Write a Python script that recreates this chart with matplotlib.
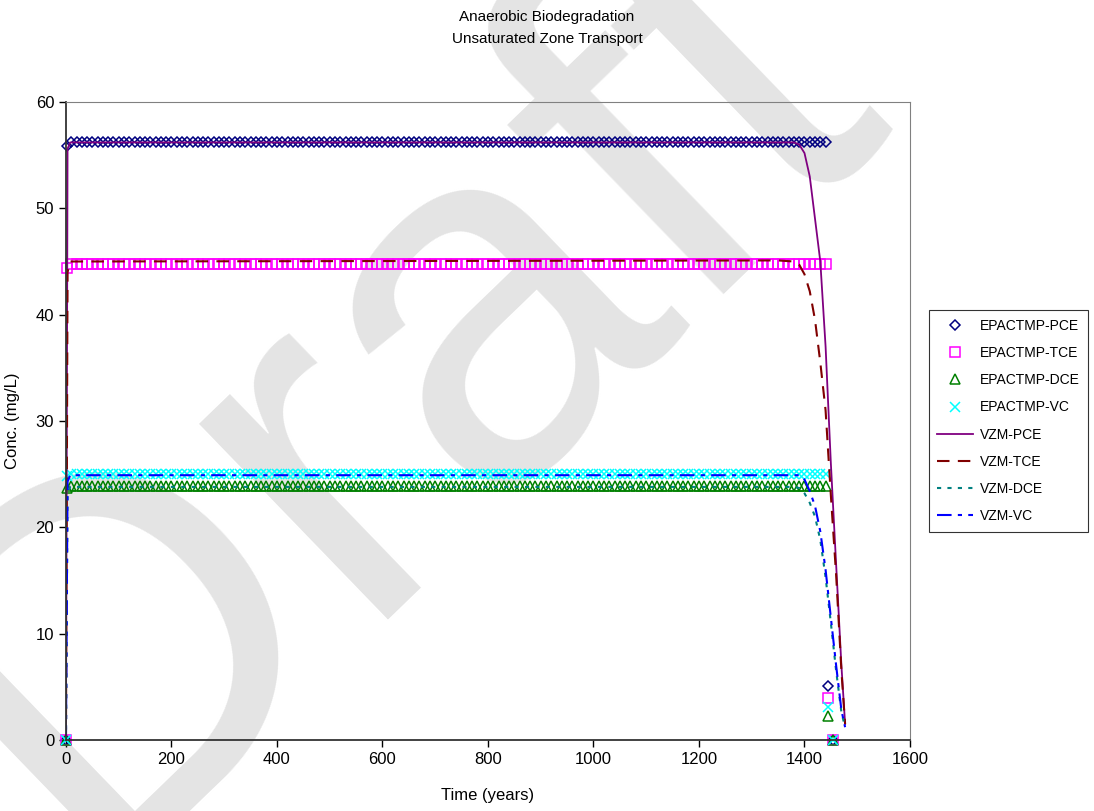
import numpy as np
import matplotlib
matplotlib.use("Agg")
import matplotlib.pyplot as plt

plt.rcParams["font.family"] = ["Liberation Sans", "DejaVu Sans"]

# EPACTMP model output (markers)
epa_time = [0, 2] + list(range(10, 1441, 10)) + [1445, 1455]
n_flat = len(range(10, 1441, 10))
epa_pce = [0, 55.9] + [56.2] * n_flat + [5.1, 0]
epa_tce = [0, 44.4] + [44.8] * n_flat + [3.9, 0]
epa_dce = [0, 23.7] + [23.9] * n_flat + [2.3, 0]
epa_vc = [0, 24.8] + [25.0] * n_flat + [3.1, 0]

# VZM model output (lines)
vzm_time = [0, 3, 8, 1350, 1380, 1390, 1400, 1410, 1420, 1430, 1440, 1450, 1460, 1470, 1477]
vzm_pce = [0, 55.6, 56.2, 56.2, 56.2, 56.0, 55.2, 53.0, 49.0, 45.0, 37.0, 26.0, 16.5, 7.0, 1.5]
vzm_tce = [0, 44.0, 45.0, 45.1, 45.0, 44.7, 43.8, 42.2, 39.5, 35.5, 31.0, 23.0, 15.5, 6.5, 1.5]
vzm_dce = [0, 23.2, 23.8, 23.8, 23.8, 23.7, 23.2, 22.3, 21.0, 18.8, 15.3, 11.0, 6.5, 2.6, 1.2]
vzm_vc = [0, 24.3, 24.9, 24.9, 24.9, 24.9, 24.5, 23.4, 22.0, 19.6, 16.0, 11.5, 7.0, 2.8, 1.2]

fig = plt.figure(figsize=(10.94, 8.11), dpi=100)
fig.text(0.36, 0.52, "Draft", fontsize=370, color="#e4e4e4", rotation=44,
         ha="center", va="center", zorder=-5)
ax = fig.add_axes([0.0603, 0.0876, 0.7715, 0.7866])
ax.set_facecolor("none")

mk = dict(linestyle="none", markerfacecolor="none", markeredgewidth=1.1, clip_on=False)
ax.plot(epa_time, epa_pce, marker="D", markersize=5.5, color="#000080", label="EPACTMP-PCE", **mk)
ax.plot(epa_time, epa_tce, marker="s", markersize=6.5, color="#ff00ff", label="EPACTMP-TCE", **mk)
ax.plot(epa_time, epa_dce, marker="^", markersize=7, color="#008000", label="EPACTMP-DCE", **mk)
ax.plot(epa_time, epa_vc, marker="x", markersize=7, color="#00ffff", label="EPACTMP-VC", **mk)

ax.plot(vzm_time, vzm_pce, color="#800080", lw=1.3, label="VZM-PCE")
ax.plot(vzm_time, vzm_tce, color="#800000", lw=1.5, dashes=(6, 4), label="VZM-TCE")
ax.plot(vzm_time, vzm_dce, color="#008080", lw=1.5, dashes=(2, 3), label="VZM-DCE")
ax.plot(vzm_time, vzm_vc, color="#0000ff", lw=1.5, dashes=(7, 3, 2, 3), label="VZM-VC")

ax.set_xlim(0, 1600)
ax.set_ylim(0, 60)
ax.set_xticks(np.arange(0, 1601, 200))
ax.set_yticks(np.arange(0, 61, 10))
ax.tick_params(direction="out", length=5, labelsize=12, width=1)
for side in ["top", "right"]:
    ax.spines[side].set_color("#808080")
for side in ["left", "bottom"]:
    ax.spines[side].set_color("#333333")
    ax.spines[side].set_linewidth(1.3)

ax.set_xlabel("Time (years)", fontsize=12)
ax.set_ylabel("Conc. (mg/L)", fontsize=12)
ax.xaxis.set_label_coords(0.5, -0.075)
ax.yaxis.set_label_coords(-0.055, 0.5)
fig.text(0.5, 0.988, "Anaerobic Biodegradation\nUnsaturated Zone Transport",
         ha="center", va="top", fontsize=11, linespacing=1.75)

leg = ax.legend(loc="center left", bbox_to_anchor=(1.022, 0.5), fontsize=10,
                frameon=True, fancybox=False, edgecolor="black", handlelength=2.6,
                handletextpad=0.5, labelspacing=0.95, borderpad=0.6, borderaxespad=0)
leg.get_frame().set_linewidth(0.8)

fig.savefig("out.png", dpi=100)
